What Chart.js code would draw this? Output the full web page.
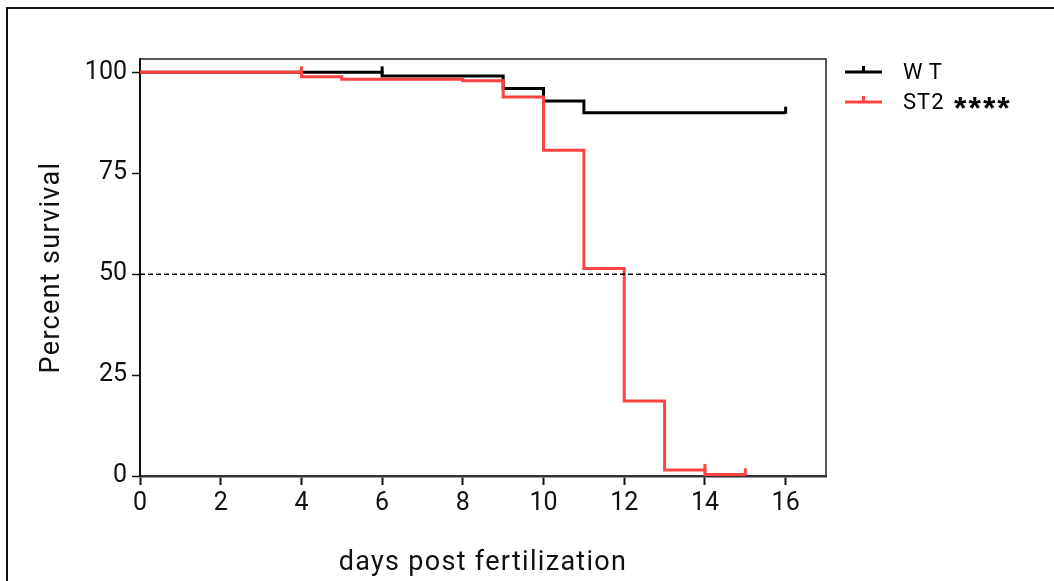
<!DOCTYPE html>
<html>
<head>
<meta charset="utf-8">
<script src="https://cdn.jsdelivr.net/npm/chart.js@4.4.1/dist/chart.umd.min.js"></script>
<style>
  html, body { margin: 0; padding: 0; background: #fff; }
  #wrap { width: 1054px; height: 581px; position: relative; }
</style>
</head>
<body>
<div id="wrap"><canvas id="myChart"></canvas></div>
<script>
// survival data (days post fertilization, percent survival)
var wtDays = [0, 6, 9, 10, 11, 16];
var wtSurvival = [100, 99.1, 96, 92.9, 90, 90];
var wtCensorDays = [6, 16];
var wtCensorValues = [100, 90];

var st2Days = [0, 4, 5, 8, 9, 10, 11, 12, 13, 14, 15];
var st2Survival = [100, 98.9, 98.3, 97.9, 93.9, 80.7, 51.4, 18.6, 1.5, 0.4, 0.4];
var st2CensorDays = [4, 14, 15];
var st2CensorValues = [100, 1.5, 0.4];

var xTicks = [0, 2, 4, 6, 8, 10, 12, 14, 16];
var yTicks = [0, 25, 50, 75, 100];
var medianLine = 50;

var legendLabels = ['WT', 'ST2', '****'];
var xTitle = 'days post fertilization';
var yTitle = 'Percent survival';
var black = '#000000';
var red = '#ff4242';
var fontFamily = 'Roboto, "Noto Sans", sans-serif';

function toPoints(xs, ys) {
    return xs.map(function (x, i) { return {x: x, y: ys[i]}; });
}

// frame, titles, censor ticks and legend
var extras = {
    id: 'extras',
    beforeDraw: function (chart) {
        var c = chart.ctx;
        c.save();
        c.strokeStyle = '#111';
        c.lineWidth = 2;
        c.beginPath();
        c.moveTo(7, 581);
        c.lineTo(7, 8);
        c.lineTo(1054, 8);
        c.stroke();
        var a = chart.chartArea;
        c.lineWidth = 1.5;
        c.strokeStyle = '#222';
        c.beginPath();
        c.moveTo(a.left, a.top);
        c.lineTo(a.right, a.top);
        c.lineTo(a.right, a.bottom);
        c.stroke();

        // axis titles
        c.fillStyle = '#111';
        c.font = '27px ' + fontFamily;
        c.textAlign = 'center';
        c.textBaseline = 'middle';
        c.letterSpacing = '1.3px';
        c.fillText(xTitle, (a.left + a.right) / 2, 563);
        c.translate(52, (a.top + a.bottom) / 2);
        c.rotate(-Math.PI / 2);
        c.fillText(yTitle, 0, 0);
        c.restore();
    },
    afterDatasetsDraw: function (chart) {
        var c = chart.ctx;
        var xs = chart.scales.x, ys = chart.scales.y;
        c.save();
        c.lineWidth = 3;
        function ticks(days, vals, color) {
            c.strokeStyle = color;
            days.forEach(function (d, i) {
                var px = xs.getPixelForValue(d);
                var py = ys.getPixelForValue(vals[i]);
                c.beginPath();
                c.moveTo(px, py + 1);
                c.lineTo(px, py - 6);
                c.stroke();
            });
        }
        ticks(st2CensorDays, st2CensorValues, red);
        ticks(wtCensorDays, wtCensorValues, black);

        // legend
        var colors = [black, red];
        c.fillStyle = '#000';
        colors.forEach(function (col, i) {
            var y = 72 + i * 30;
            c.strokeStyle = col;
            c.beginPath();
            c.moveTo(845, y);
            c.lineTo(882, y);
            c.moveTo(863.5, y);
            c.lineTo(863.5, y - 6);
            c.stroke();
        });
        c.textBaseline = 'middle';
        c.font = '22px ' + fontFamily;
        c.letterSpacing = '6px';
        c.fillText(legendLabels[0], 903, 73);
        c.letterSpacing = '1px';
        c.fillText(legendLabels[1], 903, 103);
        c.textBaseline = 'alphabetic';
        c.font = 'bold 32px "Liberation Sans", sans-serif';
        c.letterSpacing = '2px';
        c.fillText(legendLabels[2], 954, 119);
        c.restore();
    }
};

var ctx = document.getElementById('myChart');
var myChart = new Chart(ctx, {
    type: 'line',
    data: {
        datasets: [
            {
                label: 'median',
                data: [{x: 0, y: medianLine}, {x: 17, y: medianLine}],
                borderColor: '#000',
                borderWidth: 1.5,
                borderDash: [5, 3],
                pointRadius: 0
            },
            {
                label: legendLabels[1],
                data: toPoints(st2Days, st2Survival),
                stepped: 'before',
                borderColor: red,
                borderWidth: 3,
                pointRadius: 0
            },
            {
                label: legendLabels[0],
                data: toPoints(wtDays, wtSurvival),
                stepped: 'before',
                borderColor: black,
                borderWidth: 3,
                pointRadius: 0
            }
        ]
    },
    options: {
        responsive: true,
        maintainAspectRatio: false,
        animation: false,
        layout: {padding: {top: 59, right: 228, left: 0, bottom: 0}},
        plugins: {legend: {display: false}, tooltip: {enabled: false}},
        scales: {
            x: {
                type: 'linear',
                min: 0,
                max: 17,
                afterFit: function (s) { s.height = 105; },
                afterBuildTicks: function (s) {
                    s.ticks = xTicks.map(function (v) { return {value: v}; });
                },
                border: {color: '#333', width: 2.5},
                grid: {drawOnChartArea: false, tickLength: 9, tickWidth: 2, tickColor: '#111'},
                ticks: {color: '#111', padding: 4, font: {family: fontFamily, size: 25}}
            },
            y: {
                min: 0,
                max: 103.3,
                afterFit: function (s) { s.width = 140; },
                afterBuildTicks: function (s) {
                    s.ticks = yTicks.map(function (v) { return {value: v}; });
                },
                border: {color: '#111', width: 2},
                grid: {drawOnChartArea: false, tickLength: 8, tickWidth: 1.5, tickColor: '#111'},
                ticks: {color: '#111', padding: 5, font: {family: fontFamily, size: 25}}
            }
        }
    },
    plugins: [extras]
});
</script>
</body>
</html>
